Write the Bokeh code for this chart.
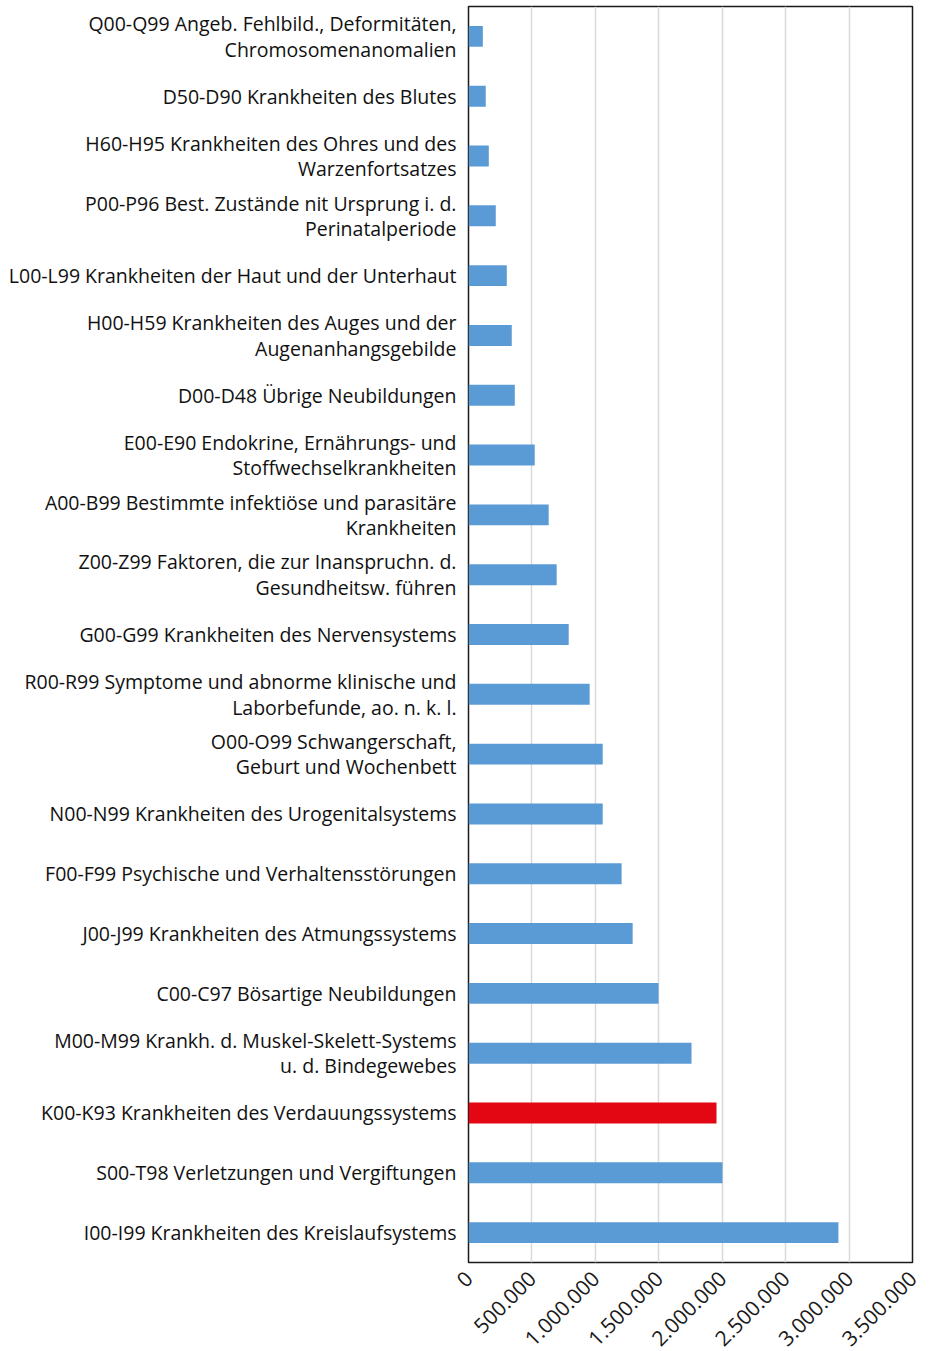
import math
from bokeh.plotting import figure
from bokeh.models import FixedTicker, Range1d, FactorRange
from bokeh.embed import file_html
from bokeh.resources import INLINE

# Categories, top to bottom as shown in the chart
categories = [
    "Q00-Q99 Angeb. Fehlbild., Deformitäten,\nChromosomenanomalien",
    "D50-D90 Krankheiten des Blutes",
    "H60-H95 Krankheiten des Ohres und des\nWarzenfortsatzes",
    "P00-P96 Best. Zustände nit Ursprung i. d.\nPerinatalperiode",
    "L00-L99 Krankheiten der Haut und der Unterhaut",
    "H00-H59 Krankheiten des Auges und der\nAugenanhangsgebilde",
    "D00-D48 Übrige Neubildungen",
    "E00-E90 Endokrine, Ernährungs- und\nStoffwechselkrankheiten",
    "A00-B99 Bestimmte infektiöse und parasitäre\nKrankheiten",
    "Z00-Z99 Faktoren, die zur Inanspruchn. d.\nGesundheitsw. führen",
    "G00-G99 Krankheiten des Nervensystems",
    "R00-R99 Symptome und abnorme klinische und\nLaborbefunde, ao. n. k. l.",
    "O00-O99 Schwangerschaft,\nGeburt und Wochenbett",
    "N00-N99 Krankheiten des Urogenitalsystems",
    "F00-F99 Psychische und Verhaltensstörungen",
    "J00-J99 Krankheiten des Atmungssystems",
    "C00-C97 Bösartige Neubildungen",
    "M00-M99 Krankh. d. Muskel-Skelett-Systems\nu. d. Bindegewebes",
    "K00-K93 Krankheiten des Verdauungssystems",
    "S00-T98 Verletzungen und Vergiftungen",
    "I00-I99 Krankheiten des Kreislaufsystems",
]
values = [113000, 136000, 160000, 215000, 302000, 341000, 365000, 522000,
          632000, 695000, 790000, 955000, 1058000, 1058000, 1207000, 1294000,
          1498000, 1758000, 1955000, 2002000, 2916000]
highlight = "K00-K93 Krankheiten des Verdauungssystems"

tick_values = [0, 500000, 1000000, 1500000, 2000000, 2500000, 3000000, 3500000]
tick_labels = ["0", "500.000", "1.000.000", "1.500.000", "2.000.000",
               "2.500.000", "3.000.000", "3.500.000"]

BLUE = "#5B9BD5"
RED = "#E30613"
colors = [RED if c == highlight else BLUE for c in categories]

p = figure(
    y_range=FactorRange(factors=list(reversed(categories)), range_padding=0),
    x_range=Range1d(0, 3500000),
    frame_width=444, frame_height=1256,
    min_border_left=468, min_border_right=9, min_border_top=6, min_border_bottom=80,
    output_backend="svg", toolbar_location=None,
)
p.hbar(y=categories, right=values, left=0, height=0.35, color=colors, line_color=None)

p.outline_line_color = "#1a1a1a"
p.outline_line_width = 1.5
p.background_fill_color = "white"
p.border_fill_color = "white"

p.ygrid.grid_line_color = None
p.xgrid.grid_line_color = "#d9d9d9"
p.xgrid.grid_line_width = 1.5

p.xaxis.ticker = FixedTicker(ticks=tick_values)
p.xaxis.major_label_overrides = {v: l for v, l in zip(tick_values, tick_labels)}
p.xaxis.major_label_orientation = math.pi / 4
p.xaxis.axis_line_color = None
p.xaxis.major_tick_line_color = None
p.xaxis.minor_tick_line_color = None
p.xaxis.major_label_text_font = "Open Sans"
p.xaxis.major_label_text_font_size = "21px"
p.xaxis.major_label_text_color = "#1a1a1a"
p.xaxis.major_label_standoff = 6

p.yaxis.axis_line_color = None
p.yaxis.major_tick_line_color = None
p.yaxis.major_tick_out = 0
p.yaxis.major_label_standoff = 12
p.yaxis.major_label_text_font = "Open Sans"
p.yaxis.major_label_text_font_size = "19.5px"
p.yaxis.major_label_text_color = "#111111"
p.yaxis.major_label_text_line_height = 0.95

open("out.html", "w").write(file_html(p, INLINE))
